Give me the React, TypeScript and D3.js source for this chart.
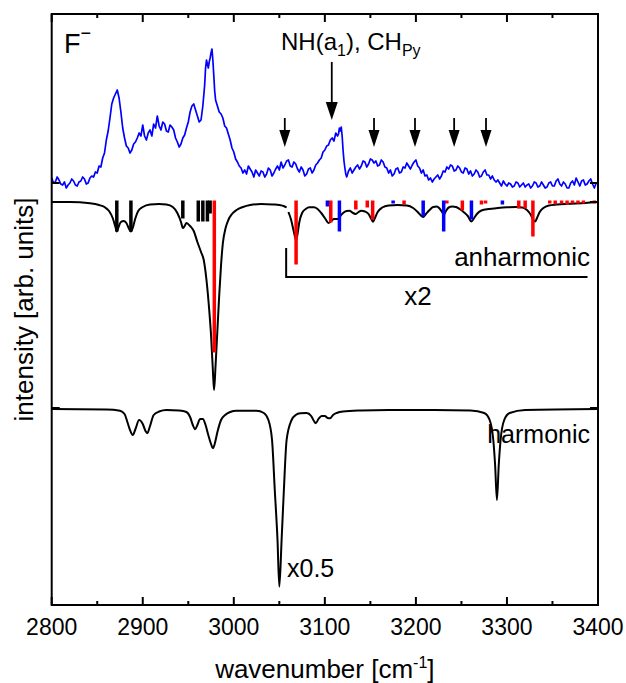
import React from 'react';
import * as d3 from 'd3';

// ---------- data ----------
const X_MAJOR = [2800, 2900, 3000, 3100, 3200, 3300, 3400];
const X_MINOR = [2850, 2950, 3050, 3150, 3250, 3350];

// vertical offsets of the stacked traces (arb. units)
const EXP_OFFSET = 419;
const ANH_OFFSET = 403;
const HARM_OFFSET = 197;
const Y_TICKS = [197, 403, 422];

// experimental spectrum (blue) [wavenumber, intensity]
const EXP_DATA: [number, number][] = [
  [2800,8],[2802,3],[2804,4],[2806,9],[2808,6],[2810,2],[2812,1],[2814,4],[2816,-2],[2818,1],[2820,3],[2822,7],[2824,5],[2826,1],[2828,0],[2830,4],[2832,5],[2834,9],[2836,7],[2838,2],[2840,3],[2842,8],[2844,10],[2846,9],[2848,14],[2850,13],[2852,20],[2854,19],[2856,28],[2858,33],[2860,46],[2862,55],[2864,68],[2866,82],[2868,88],[2870,92],[2872,96],[2874,88],[2876,74],[2878,58],[2880,48],[2882,40],[2884,38],[2886,33],[2888,36],[2890,42],[2892,44],[2894,48],[2896,53],[2898,50],[2900,61],[2902,50],[2904,46],[2906,53],[2908,56],[2910,50],[2912,62],[2914,58],[2916,70],[2918,60],[2920,56],[2922,64],[2924,62],[2926,55],[2928,54],[2930,61],[2932,59],[2934,56],[2936,48],[2938,44],[2940,39],[2942,42],[2944,48],[2946,51],[2948,58],[2950,64],[2952,74],[2954,80],[2956,82],[2958,76],[2960,70],[2962,64],[2964,66],[2966,80],[2968,101],[2969,118],[2970,126],[2971,122],[2972,118],[2973,124],[2974,128],[2975,133],[2976,137],[2977,126],[2978,111],[2979,95],[2980,86],[2982,80],[2984,74],[2986,72],[2988,68],[2990,60],[2992,58],[2994,52],[2996,46],[2998,38],[3000,34],[3002,27],[3004,24],[3006,20],[3008,18],[3010,13],[3012,16],[3014,12],[3016,20],[3018,17],[3020,14],[3022,9],[3024,16],[3026,13],[3028,10],[3030,15],[3032,14],[3034,9],[3036,12],[3038,18],[3040,16],[3042,10],[3044,13],[3046,17],[3048,20],[3050,16],[3052,24],[3054,18],[3056,21],[3058,25],[3060,26],[3062,20],[3064,19],[3066,24],[3068,22],[3070,17],[3072,14],[3074,19],[3076,16],[3078,10],[3080,12],[3082,17],[3084,18],[3086,13],[3088,16],[3090,21],[3092,23],[3094,26],[3096,28],[3098,34],[3100,36],[3102,40],[3104,41],[3106,46],[3108,48],[3110,45],[3112,53],[3114,50],[3115,52],[3116,58],[3117,55],[3118,59],[3119,50],[3120,36],[3121,25],[3122,18],[3123,12],[3124,9],[3126,15],[3128,18],[3130,13],[3132,16],[3134,19],[3136,21],[3138,17],[3140,20],[3142,25],[3144,24],[3146,19],[3148,22],[3150,27],[3152,26],[3154,23],[3156,25],[3158,20],[3160,21],[3162,26],[3164,24],[3166,19],[3168,18],[3170,13],[3172,16],[3174,10],[3176,12],[3178,17],[3180,18],[3182,13],[3184,14],[3186,19],[3188,18],[3190,23],[3192,20],[3194,17],[3196,21],[3198,24],[3200,26],[3202,20],[3204,18],[3206,13],[3208,16],[3210,10],[3212,11],[3214,6],[3216,8],[3218,4],[3220,7],[3222,9],[3224,11],[3226,7],[3228,10],[3230,15],[3232,14],[3234,19],[3236,17],[3238,21],[3240,20],[3242,15],[3244,16],[3246,20],[3248,18],[3250,14],[3252,13],[3254,18],[3256,17],[3258,12],[3260,15],[3262,10],[3264,12],[3266,16],[3268,14],[3270,9],[3272,10],[3274,14],[3276,16],[3278,11],[3280,11],[3282,7],[3284,10],[3286,6],[3288,4],[3290,6],[3292,3],[3294,0],[3296,5],[3298,2],[3300,0],[3302,3],[3304,2],[3306,-1],[3308,0],[3310,4],[3312,3],[3314,-1],[3316,1],[3318,3],[3320,-1],[3322,1],[3324,2],[3326,-2],[3328,0],[3330,4],[3332,3],[3334,-1],[3336,0],[3338,4],[3340,1],[3342,-2],[3344,-1],[3346,3],[3348,4],[3350,0],[3352,0],[3354,5],[3356,7],[3358,2],[3360,0],[3362,4],[3364,2],[3366,-2],[3368,-2],[3370,3],[3372,5],[3374,1],[3376,8],[3378,4],[3380,0],[3382,5],[3384,6],[3386,1],[3388,2],[3390,5],[3392,7],[3394,2],[3396,-2],[3398,3],[3400,3]
];

// anharmonic simulation, unscaled part
const ANH_LOW: [number, number][] = [
  [2800,0],[2820,0],[2842,-1.3],[2852,-3],[2858,-5],[2863,-9],[2867,-16],[2870,-25],[2871.5,-29.5],[2873,-26],[2876,-20],[2879,-19],[2882,-21],[2885,-27],[2887,-29.5],[2889,-26],[2892,-16],[2895,-9],[2900,-5],[2908,-2.5],[2918,-2],[2926,-2.5],[2933,-5],[2938,-11],[2942,-20],[2944,-26],[2946,-24],[2948,-21],[2952,-24],[2956,-29],[2960,-40],[2964,-50],[2967,-58],[2970,-78],[2973,-108],[2975,-133],[2977,-168],[2978.3,-188],[2980,-163],[2982,-128],[2984,-93],[2986,-63],[2988,-41],[2991,-26],[2994,-18],[2998,-12],[3003,-8],[3010,-5],[3018,-3],[3030,-2],[3043,-2.5],[3050,-3],[3056,-4.5],[3058,-5.5]
];

// anharmonic simulation, x2 part
const ANH_HIGH: [number, number][] = [
  [3060,-10],[3063,-18],[3066,-30],[3068.4,-38],[3070,-32],[3072,-20],[3075,-11],[3079,-7],[3083,-5.3],[3088,-5.3],[3092,-7],[3096,-11],[3100,-16],[3104,-21],[3107,-19],[3110,-17],[3114,-17],[3117,-14],[3120,-11],[3124,-9],[3127,-8.7],[3131,-11],[3134,-12],[3137,-10],[3140,-8.7],[3144,-9.5],[3148,-12],[3151,-17],[3153,-19.7],[3155,-16],[3158,-10],[3163,-5.5],[3170,-3.5],[3180,-3],[3190,-3.5],[3197,-6],[3202,-10],[3206,-14],[3208,-15],[3211,-12],[3215,-8],[3219,-5],[3223,-4.5],[3226,-6.5],[3229,-10.5],[3230.7,-12.5],[3233,-9],[3236,-5.5],[3240,-4.5],[3244,-5],[3248,-7],[3253,-10.5],[3257,-14],[3261,-19.5],[3264,-16],[3267,-12],[3272,-8.5],[3280,-7],[3290,-6],[3300,-5.3],[3310,-5],[3317,-5.5],[3322,-8],[3326,-12.5],[3329,-18],[3331,-19.5],[3333,-16],[3336,-10],[3340,-6],[3346,-3.5],[3355,-2.5],[3367,-1.8],[3386,-1],[3400,0]
];

// stick spectra [wavenumber, intensity]
const STICKS_BLACK: [number, number][] = [
  [2871.5,31],[2887,31],[2944,18],[2961,21],[2966,21],[2971,21],[2974,13]
];
const STICKS_RED: [number, number][] = [
  [2978.6,152],[3068.4,64],[3106.5,22],[3134,9],[3146.6,7],[3152.5,19],[3187,4],[3234,3],[3251,10],[3272,4],[3276.5,3],[3313,8],[3320,8],[3328.5,36],[3347,3],[3353,4],[3360,3],[3366,4],[3372,3],[3378,3],[3384,3],[3396,3]
];
const STICKS_BLUE: [number, number][] = [
  [3102.8,6],[3116,31],[3175,3],[3208,16],[3230.5,31],[3261,19],[3295,4]
];

// harmonic simulation (x0.5)
const HARM_DATA: [number, number][] = [
  [2800,-1],[2860,-1.5],[2875,-2.7],[2880,-6],[2883,-13.7],[2886,-22],[2889,-27],[2892,-21],[2896,-12],[2900,-16],[2903,-23],[2905,-25.3],[2908,-18],[2912,-7],[2918,-3.5],[2926,-2],[2940,-2.5],[2948,-4],[2952,-9],[2955,-17],[2957.5,-21.3],[2960,-17],[2963,-11],[2966,-11],[2969,-17],[2972,-27],[2975,-36],[2977,-40.3],[2979,-36],[2982,-24],[2986,-12],[2990.5,-7],[2996,-4],[3003,-2.7],[3025,-2.7],[3033,-5],[3038,-12],[3042,-32],[3045,-82],[3048,-132],[3050,-178.7],[3052.5,-132],[3055,-82],[3058,-32],[3063.5,-12],[3068,-7],[3073,-5.3],[3080,-5],[3085,-8],[3088,-13],[3090,-15.3],[3093,-11],[3096.5,-8],[3100,-8],[3103,-10],[3105.7,-10.3],[3109,-7],[3113,-5],[3120,-3.5],[3140,-2.5],[3170,-2],[3220,-2],[3260,-2.5],[3275,-5],[3281,-12],[3285,-32],[3287,-57],[3289,-92],[3291,-57],[3293,-32],[3297,-12],[3303,-5],[3320,-2],[3400,-1]
];

// annotation positions (wavenumbers)
const ARROW_LONG = 3107.6;
const ARROWS_SHORT = [3056, 3154, 3199, 3242, 3277];
const BRACKET = [3057.5, 3388.5];

// ---------- layout ----------
const W = 626, H = 683;
const L = 51.7, R = 598, T = 14, B = 605;
const FONT = "'Liberation Sans', Arial, Helvetica, sans-serif";

export default function App() {
  const x = d3.scaleLinear().domain([2800, 3400]).range([L, R]);
  const y = d3.scaleLinear().domain([0, B - T]).range([B, T]);

  const line = (off: number, curve: d3.CurveFactory) =>
    d3.line<[number, number]>()
      .x(d => x(d[0]))
      .y(d => y(off + d[1]))
      .curve(curve);

  const expPath = line(EXP_OFFSET, d3.curveLinear)(EXP_DATA) || '';
  const anhLow = line(ANH_OFFSET, d3.curveMonotoneX)(ANH_LOW) || '';
  const anhHigh = line(ANH_OFFSET, d3.curveMonotoneX)(ANH_HIGH) || '';
  const harm = line(HARM_OFFSET, d3.curveMonotoneX)(HARM_DATA) || '';

  const stickTop = ANH_OFFSET + 1.5;
  const sticks = (data: [number, number][], color: string) =>
    data.map((d, i) => (
      <line key={color + i} x1={x(d[0])} x2={x(d[0])} y1={y(stickTop)} y2={y(stickTop - d[1])}
        stroke={color} strokeWidth={3.5} />
    ));

  const arrow = (wn: number, y1: number, y2: number, headLen: number, hw: number, k: string) => {
    const xx = x(wn);
    return (
      <g key={k}>
        <line x1={xx} x2={xx} y1={y1} y2={y2 - headLen + 2} stroke="#000" strokeWidth={1.8} />
        <polygon points={`${xx - hw},${y2 - headLen} ${xx + hw},${y2 - headLen} ${xx},${y2}`} fill="#000" />
      </g>
    );
  };

  return (
    <svg width={W} height={H} style={{ position: 'absolute', left: 0, top: 0, background: '#fff' }}
      fontFamily={FONT}>
      <rect x={0} y={0} width={W} height={H} fill="#fff" />
      <path d={expPath} fill="none" stroke="#0000ff" strokeWidth={1.7} strokeLinejoin="round" />
      <path d={anhLow} fill="none" stroke="#000" strokeWidth={2} />
      <path d={anhHigh} fill="none" stroke="#000" strokeWidth={2} />
      {sticks(STICKS_BLACK, '#000')}
      {sticks(STICKS_RED, '#ff0000')}
      {sticks(STICKS_BLUE, '#0000ff')}
      <path d={harm} fill="none" stroke="#000" strokeWidth={2} />

      {/* x2 bracket */}
      <polyline points={`${x(BRACKET[0])},248 ${x(BRACKET[0])},277 ${x(BRACKET[1])},277`}
        fill="none" stroke="#000" strokeWidth={2} />

      {/* frame */}
      <rect x={L} y={T} width={R - L} height={B - T} fill="none" stroke="#000" strokeWidth={2} />
      {X_MAJOR.map(v => (
        <g key={'M' + v}>
          <line x1={x(v)} x2={x(v)} y1={B} y2={B - 8} stroke="#000" strokeWidth={2} />
          <line x1={x(v)} x2={x(v)} y1={T} y2={T + 8} stroke="#000" strokeWidth={2} />
          <text x={x(v)} y={635} textAnchor="middle" fontSize={23}>{v}</text>
        </g>
      ))}
      {X_MINOR.map(v => (
        <g key={'m' + v}>
          <line x1={x(v)} x2={x(v)} y1={B} y2={B - 4} stroke="#000" strokeWidth={2} />
          <line x1={x(v)} x2={x(v)} y1={T} y2={T + 4} stroke="#000" strokeWidth={2} />
        </g>
      ))}
      {Y_TICKS.map(v => (
        <g key={'y' + v}>
          <line x1={L} x2={L + 8} y1={y(v)} y2={y(v)} stroke="#000" strokeWidth={2} />
          <line x1={R} x2={R - 8} y1={y(v)} y2={y(v)} stroke="#000" strokeWidth={2} />
        </g>
      ))}

      {/* axis titles */}
      <text x={(L + R) / 2} y={678} textAnchor="middle" fontSize={26}>
        wavenumber [cm<tspan dy={-10} fontSize={16}>-1</tspan><tspan dy={10}>]</tspan>
      </text>
      <text transform={`translate(33,${(T + B) / 2}) rotate(-90)`} textAnchor="middle" fontSize={26}>
        intensity [arb. units]
      </text>

      {/* labels */}
      <text x={64} y={53} fontSize={27}>F<tspan dy={-14} fontSize={18}>−</tspan></text>
      <text x={281} y={50} fontSize={24}>
        NH(a<tspan dy={6} fontSize={16}>1</tspan><tspan dy={-6}>), CH</tspan><tspan dy={6} fontSize={16}>Py</tspan>
      </text>
      <text x={590} y={266} textAnchor="end" fontSize={26}>anharmonic</text>
      <text x={590} y={443} textAnchor="end" fontSize={25}>harmonic</text>
      <text x={418} y={305} textAnchor="middle" fontSize={26}>x2</text>
      <text x={287} y={577} fontSize={25}>x0.5</text>

      {/* arrows */}
      {arrow(ARROW_LONG, 62, 120, 18, 6, 'long')}
      {ARROWS_SHORT.map((wn, i) => arrow(wn, 118, 147, 17, 5.5, 's' + i))}
    </svg>
  );
}
